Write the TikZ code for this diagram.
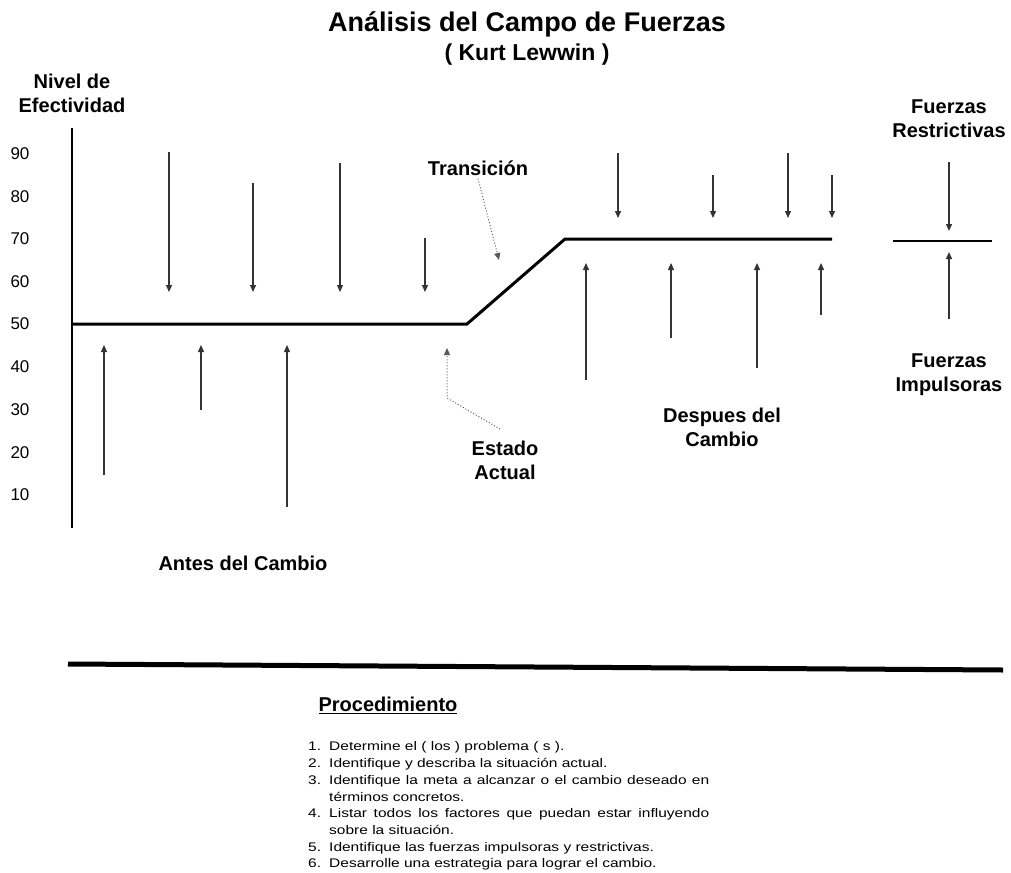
\documentclass[tikz,border=0pt]{standalone}
\usepackage{fontspec}
\setmainfont{Liberation Sans}
\newfontfamily\listfont[FakeStretch=1.24]{Liberation Sans}
\usetikzlibrary{arrows.meta}
\newcommand\procitem[1]{\par\noindent\hangindent=21pt\hangafter=1\makebox[21pt][l]{#1}}
\begin{document}
\begin{tikzpicture}[x=1pt,y=-1pt,
  lbl/.style={font=\fontsize{20}{24}\selectfont\bfseries, align=center, inner sep=0pt},
  tick/.style={font=\fontsize{17}{20}\selectfont, inner sep=0pt},
  force/.style={line width=1.3pt, draw=black!80, -{Triangle[length=7pt,width=6pt]}},
  dotarrow/.style={line width=1pt, draw=black!65, dotted, -{Triangle[length=7pt,width=6pt]}},
  level/.style={line width=3pt, line join=miter}]
\useasboundingbox (0,0) rectangle (1011,872);

% titles
\node[inner sep=0pt, font=\fontsize{27}{30}\selectfont\bfseries] (title) at (527,24) {Análisis del Campo de Fuerzas};
\node[inner sep=0pt, font=\fontsize{23}{26}\selectfont\bfseries] (author) at (527,55) {( Kurt Lewwin )};

% axis
\node[lbl] (ylabel) at (72,93) {Nivel de\\Efectividad};
\draw[line width=2.5pt] (72,128) coordinate (axtop) -- (72,528) coordinate (axbot);
\foreach \v/\y in {90/154,80/197,70/239,60/282,50/324,40/367,30/410,20/453,10/495}
  \node[tick] (t\v) at (20,\y) {\v};

% level line
\draw[level] (72,324) coordinate (l0) -- (467,324) coordinate (l1) -- (565,239) coordinate (l2) -- (832,239) coordinate (l3);

% restraining forces (down)
\foreach \x/\a in {169/152,253/183,340/163,425/238}
  \draw[force] (\x,\a) -- (\x,292);
\foreach \x/\a in {618/153,713/175,788/153,832/175}
  \draw[force] (\x,\a) -- (\x,218);
% driving forces (up)
\foreach \x/\b in {104/475,201/410,287/507}
  \draw[force] (\x,\b) -- (\x,345);
\foreach \x/\b in {586/380,671/338,757/368,821/315}
  \draw[force] (\x,\b) -- (\x,263);

% labels
\node[lbl] (trans) at (478,168) {Transición};
\coordinate (transtip) at (499,260);
\draw[dotarrow] (trans.south) ++(0,3) -- (transtip);

\node[lbl] (estado) at (505,460) {Estado\\Actual};
\coordinate (bend) at (447,398);
\coordinate (estip) at (447,348);
\draw[dotarrow] (500,429) -- (bend) -- (estip);

\node[lbl] (despues) at (722,427) {Despues del\\Cambio};
\node[lbl] (antes) at (243,563) {Antes del Cambio};

% legend
\node[lbl] (restr) at (949,119) {Fuerzas\\Restrictivas};
\node[lbl] (impul) at (949,375) {Fuerzas\\Impulsoras};
\draw[line width=2.5pt] (893,241) coordinate (lg0) -- (992,241) coordinate (lg1);
\draw[force] (restr.south) ++(0,24) -- (949,231);
\draw[force] (impul.north) ++(0,-35) -- (949,252);

% separator
\draw[line width=5pt] (68,664) coordinate (s0) -- (1003,670) coordinate (s1);

% procedure
\node[inner sep=0pt, font=\fontsize{20}{24}\selectfont\bfseries] (proctitle) at (388,705) {\underline{Procedimiento}};
\node[anchor=north west, inner sep=0pt, text width=401pt, align=justify,
      font=\listfont\fontsize{12.5}{16.7}\selectfont] (proc) at (308,734) {%
\hyphenpenalty=10000
\procitem{1.}Determine el ( los ) problema ( s ).
\procitem{2.}Identifique y describa la situación actual.
\procitem{3.}Identifique la meta a alcanzar o el cambio deseado en\linebreak términos concretos.
\procitem{4.}Listar todos los factores que puedan estar influyendo\linebreak sobre la situación.
\procitem{5.}Identifique las fuerzas impulsoras y restrictivas.
\procitem{6.}Desarrolle una estrategia para lograr el cambio.\par};
\end{tikzpicture}
\end{document}
